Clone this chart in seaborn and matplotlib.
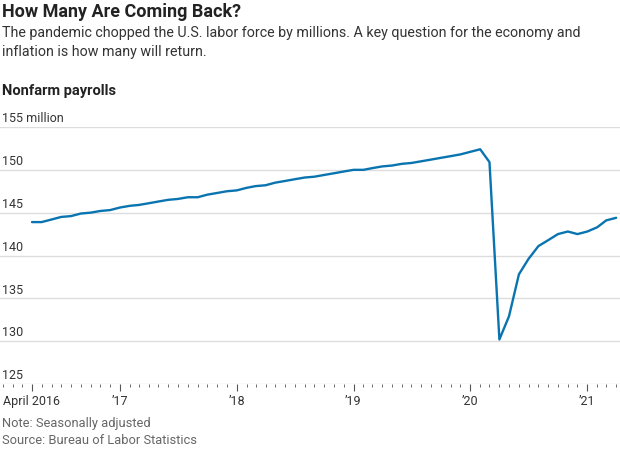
import pandas as pd
import matplotlib
matplotlib.use('Agg')
import matplotlib.pyplot as plt
import matplotlib.dates as mdates
import matplotlib.transforms as mtransforms
import seaborn as sns

# monthly nonfarm payrolls, millions, April 2016 - April 2021
months = pd.date_range('2016-04-01', '2021-04-01', freq='MS')
payrolls = [
    143.9, 143.9, 144.2, 144.5, 144.6, 144.9, 145.0, 145.2, 145.3,
    145.6, 145.8, 145.9, 146.1, 146.3, 146.5, 146.6, 146.8, 146.8, 147.1, 147.3, 147.5,
    147.6, 147.9, 148.1, 148.2, 148.5, 148.7, 148.9, 149.1, 149.2, 149.4, 149.6, 149.8,
    150.0, 150.0, 150.2, 150.4, 150.5, 150.7, 150.8, 151.0, 151.2, 151.4, 151.6, 151.8,
    152.1, 152.4, 150.9, 130.2, 132.9, 137.8, 139.6, 141.1, 141.8, 142.5, 142.8, 142.5,
    142.8, 143.3, 144.1, 144.4,
]
y_ticks = [125, 130, 135, 140, 145, 150, 155]
y_labels = ['125', '130', '135', '140', '145', '150', '155 million']
x_ticks = ['2016-04-01', '2017-01-01', '2018-01-01', '2019-01-01', '2020-01-01', '2021-01-01']
x_labels = ['April 2016', '\u201917', '\u201918', '\u201919', '\u201920', '\u201921']

df = pd.DataFrame({'month': months, 'payrolls': payrolls})

sns.set_theme(style='white')
plt.rcParams['font.family'] = ['Roboto', 'DejaVu Sans']

fig = plt.figure(figsize=(6.2, 4.5), dpi=100)
ax = fig.add_axes([0.0, 66 / 450, 1.0, (384 - 127) / 450])

sns.lineplot(data=df, x='month', y='payrolls', ax=ax, color='#0a74b0', linewidth=1.7)

# x range: a bit before April 2016 to mid April 2021
ax.set_xlim(pd.Timestamp('2016-04-01') - pd.Timedelta(days=100),
            pd.Timestamp('2021-04-01') + pd.Timedelta(days=12))
ax.set_ylim(125, 155)

# gridlines
for v in y_ticks[1:]:
    ax.axhline(v, color='#dddddd', linewidth=1, zorder=0)
ax.axhline(125, color='#999999', linewidth=0.8, zorder=0)

# y labels sit just above the gridlines on the left
trans = mtransforms.blended_transform_factory(fig.transFigure, ax.transData)
for v, lab in zip(y_ticks, y_labels):
    ax.text(2 / 620, v + 0.2, lab, transform=trans, ha='left', va='bottom',
            fontsize=9, color='#333333')

ax.set_yticks([])
ax.set_xticks(pd.to_datetime(x_ticks))
ax.set_xticklabels(x_labels, fontsize=9, color='#333333')
ax.xaxis.set_minor_locator(mdates.MonthLocator())
ax.tick_params(axis='x', which='major', length=5, width=0.8, color='#555555', direction='out', pad=3, bottom=True)
ax.tick_params(axis='x', which='minor', length=2.5, width=0.6, color='#555555', direction='out', bottom=True)
ax.set_xlabel('')
ax.set_ylabel('')
for s in ax.spines.values():
    s.set_visible(False)

# titles and notes
fig.text(2 / 620, 1 - 12 / 450, 'How Many Are Coming Back?', fontsize=13, fontweight='bold',
         color='#222222', va='center')
fig.text(2 / 620, 1 - 33 / 450,
         'The pandemic chopped the U.S. labor force by millions. A key question for the economy and',
         fontsize=10.3, color='#333333', va='center')
fig.text(2 / 620, 1 - 52 / 450, 'inflation is how many will return.',
         fontsize=10.3, color='#333333', va='center')
fig.text(2 / 620, 1 - 91 / 450, 'Nonfarm payrolls', fontsize=10.5, fontweight='bold',
         color='#222222', va='center')
fig.text(2 / 620, 1 - 424 / 450, 'Note: Seasonally adjusted', fontsize=9.3, color='#666666', va='center')
fig.text(2 / 620, 1 - 441 / 450, 'Source: Bureau of Labor Statistics', fontsize=9.3, color='#666666', va='center')

fig.savefig('out.png', dpi=100)
